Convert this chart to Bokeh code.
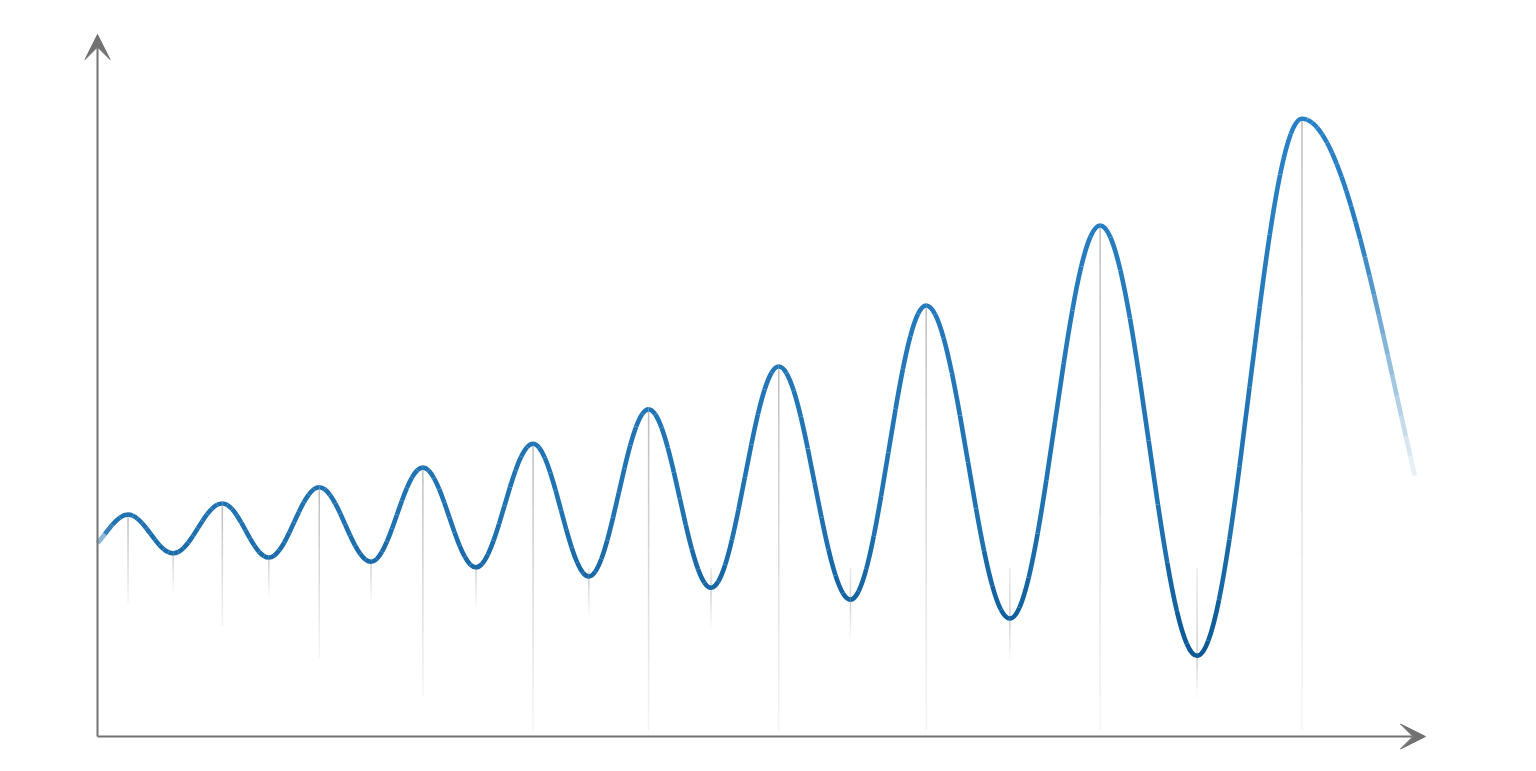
import numpy as np
from bokeh.plotting import figure
from bokeh.models import Range1d, Arrow, VeeHead
from bokeh.embed import file_html
from bokeh.resources import INLINE

# ---- data (x: 0-100 along the time axis, y: 0-100 along the value axis) ----
peak_x = [2.3, 9.4, 16.7, 24.5, 32.8, 41.5, 51.3, 62.4, 75.5, 90.7]
peak_y = [31.6, 33.2, 35.5, 38.3, 41.7, 46.6, 52.7, 61.4, 72.8, 88.0]
trough_x = [5.7, 12.9, 20.6, 28.5, 37.0, 46.2, 56.7, 68.7, 82.8]
trough_y = [26.1, 25.5, 24.9, 24.1, 22.8, 21.2, 19.5, 16.8, 11.5]
lead_in = (-1.1, 26.3)      # trough the curve rises from (left of the axis)
lead_out = (104.6, 12.3)    # trough the curve falls towards (beyond the cut)
curve_start_x = 0.0
curve_end_x = 99.2
axis_len_x = 100.0
axis_len_y = 100.0

# ---- styling constants ----
PX_X = 13.28   # pixels per x unit
PX_Y = 7.02    # pixels per y unit
W, H = 1520, 760
ORIG_PX = (97, 736)  # origin position in frame pixels (from left, from top)
K = 0.3634           # bezier handle fraction for a half sine wave

# extrema sequence
ext = [lead_in]
for i in range(len(peak_x)):
    ext.append((peak_x[i], peak_y[i]))
    if i < len(trough_x):
        ext.append((trough_x[i], trough_y[i]))
ext.append(lead_out)


def bez(a, b):
    dx = b[0] - a[0]
    return [np.array(a, float), np.array([a[0] + K * dx, a[1]]),
            np.array([b[0] - K * dx, b[1]]), np.array(b, float)]


def split(P, t):
    p01 = P[0] + (P[1] - P[0]) * t
    p12 = P[1] + (P[2] - P[1]) * t
    p23 = P[2] + (P[3] - P[2]) * t
    p012 = p01 + (p12 - p01) * t
    p123 = p12 + (p23 - p12) * t
    m = p012 + (p123 - p012) * t
    return [P[0], p01, p012, m], [m, p123, p23, P[3]]


def sub(P, t0, t1):
    L = split(P, t1)[0] if t1 < 1 else P
    if t0 <= 0:
        return L
    return split(L, t0 / t1)[1]


def bx(P, t):
    u = 1 - t
    return (u**3 * P[0] + 3 * u * u * t * P[1] + 3 * u * t * t * P[2] + t**3 * P[3])


def t_at_x(P, xv):
    lo, hi = 0.0, 1.0
    for _ in range(60):
        mid = (lo + hi) / 2
        if bx(P, mid)[0] < xv:
            lo = mid
        else:
            hi = mid
    return (lo + hi) / 2


stops_y = [11.0, 30.0, 88.0]
stops_c = [(10, 88, 148), (32, 114, 176), (42, 130, 198)]


def col(yv):
    r = np.interp(yv, stops_y, [c[0] for c in stops_c])
    g = np.interp(yv, stops_y, [c[1] for c in stops_c])
    b = np.interp(yv, stops_y, [c[2] for c in stops_c])
    return "#%02x%02x%02x" % (int(r), int(g), int(b))


def alpha(xv):
    a_start = 0.3 + 0.7 * np.clip((xv - curve_start_x) / 1.0, 0, 1)
    a_end = np.clip((curve_end_x + 0.3 - xv) / 4.5, 0, 1)
    return float(min(a_start, a_end))


segs = {k: [] for k in ["x0", "y0", "x1", "y1", "cx0", "cy0", "cx1", "cy1", "c", "a"]}
NP = 10
for i in range(len(ext) - 1):
    P = bez(ext[i], ext[i + 1])
    ta, tb = 0.0, 1.0
    if i == 0:
        ta = t_at_x(P, curve_start_x)
    if i == len(ext) - 2:
        tb = t_at_x(P, curve_end_x)
    n = NP if i not in (0,) else 4
    if i == len(ext) - 2:
        n = 24
    ts = np.linspace(ta, tb, n + 1)
    for j in range(n):
        Q = sub(P, ts[j], ts[j + 1])
        mid = bx(P, (ts[j] + ts[j + 1]) / 2)
        segs["x0"].append(Q[0][0]); segs["y0"].append(Q[0][1])
        segs["cx0"].append(Q[1][0]); segs["cy0"].append(Q[1][1])
        segs["cx1"].append(Q[2][0]); segs["cy1"].append(Q[2][1])
        segs["x1"].append(Q[3][0]); segs["y1"].append(Q[3][1])
        segs["c"].append(col(mid[1]))
        segs["a"].append(alpha(mid[0]))

p = figure(width=W, height=H,
           x_range=Range1d(-ORIG_PX[0] / PX_X, (W - ORIG_PX[0]) / PX_X),
           y_range=Range1d(-(H - ORIG_PX[1]) / PX_Y, ORIG_PX[1] / PX_Y),
           x_axis_type=None, y_axis_type=None,
           output_backend="svg", toolbar_location=None, min_border=0,
           outline_line_color=None, background_fill_color="white",
           border_fill_color="white")
p.grid.visible = False

# ---- drop lines (stems) ----
sx0, sy0, sx1, sy1, sa = [], [], [], [], []
M = 14
for i in range(1, len(ext) - 1):
    xv, yv = ext[i]
    prev_y, next_y = ext[i - 1][1], ext[i + 1][1]
    if yv > prev_y:  # peak
        trough_mean = (prev_y + next_y) / 2
        top = yv - 0.4
        bot = max(yv - 2.35 * (yv - trough_mean), 0.9)
        ys = np.linspace(top, bot, M + 1)
        for j in range(M):
            f = j / (M - 1)
            sx0.append(xv); sx1.append(xv)
            sy0.append(ys[j]); sy1.append(ys[j + 1])
            sa.append(0.85 - 0.7 * f)
    else:  # trough
        top = max(yv, 24.0)
        bot = yv - 6.0
        ys = np.linspace(top, bot, M + 1)
        for j in range(M):
            ym = (ys[j] + ys[j + 1]) / 2
            if ym > yv:
                a = 0.25 + 0.4 * (top - ym) / max(top - yv, 1e-6)
            else:
                a = 0.7 * (ym - bot) / 6.0
            sx0.append(xv); sx1.append(xv)
            sy0.append(ys[j]); sy1.append(ys[j + 1])
            sa.append(max(a, 0.03))

p.segment(x0=sx0, y0=sy0, x1=sx1, y1=sy1, line_color="#b4b4b4",
          line_alpha=sa, line_width=1.5)

# ---- axes ----
AX = "#727272"
p.add_layout(Arrow(end=VeeHead(size=25, fill_color=AX, line_color=AX, line_width=1),
                   x_start=0, y_start=0, x_end=axis_len_x, y_end=0,
                   line_color=AX, line_width=2))
p.add_layout(Arrow(end=VeeHead(size=25, fill_color=AX, line_color=AX, line_width=1),
                   x_start=0, y_start=0, x_end=0, y_end=axis_len_y,
                   line_color=AX, line_width=2))

# ---- curve ----
p.bezier(x0=segs["x0"], y0=segs["y0"], x1=segs["x1"], y1=segs["y1"],
         cx0=segs["cx0"], cy0=segs["cy0"], cx1=segs["cx1"], cy1=segs["cy1"],
         line_color=segs["c"], line_alpha=segs["a"], line_width=4.6,
         line_cap="butt")

open("out.html", "w").write(file_html(p, INLINE))
